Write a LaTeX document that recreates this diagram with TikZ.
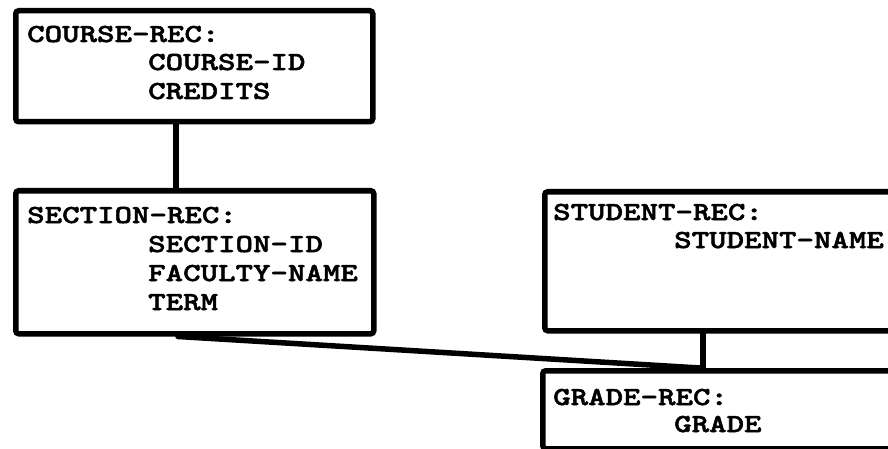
\documentclass[tikz,border=0pt]{standalone}
\usepackage{fontspec}
\newfontfamily\recfont[FakeStretch=1.28,FakeBold=2]{lmmonolt10-bold.otf}
\begin{document}
\begin{tikzpicture}[x=1pt,y=-1pt,
  recbox/.style={draw=black, line width=5.5pt, rounded corners=3pt, inner sep=0pt, anchor=north west},
  rectext/.style={anchor=base west, inner sep=0pt, font=\recfont\fontsize{26}{29}\selectfont},
  link/.style={draw=black, line width=5.5pt, line cap=round}]
\useasboundingbox (0,0) rectangle (888,449);
\clip (0,0) rectangle (888,449);
% boxes
\node[recbox, minimum width=357pt, minimum height=111pt] (course) at (13,8) {};
\node[recbox, minimum width=358pt, minimum height=143pt] (section) at (13,188) {};
\node[recbox, minimum width=400pt, minimum height=139pt] (student) at (542,189) {};
\node[recbox, minimum width=400pt, minimum height=78pt] (grade) at (540,368) {};
% texts
\node[rectext] (t1) at (27,42) {COURSE-REC:};
\node[rectext] (t2) at (148,70) {COURSE-ID};
\node[rectext] (t3) at (148,99) {CREDITS};
\node[rectext] (t4) at (27,223) {SECTION-REC:};
\node[rectext] (t5) at (148,252) {SECTION-ID};
\node[rectext] (t6) at (148,281) {FACULTY-NAME};
\node[rectext] (t7) at (148,310) {TERM};
\node[rectext] (t8) at (553,220) {STUDENT-REC:};
\node[rectext] (t9) at (674,248) {STUDENT-NAME};
\node[rectext] (t10) at (553,405) {GRADE-REC:};
\node[rectext] (t11) at (674,432) {GRADE};
% connectors
\coordinate (x1) at (176,0);
\coordinate (x2) at (703,0);
\coordinate (x3) at (178,0);
\coordinate (x4) at (700,0);
\draw[link] (course.south -| x1) -- (section.north -| x1);
\draw[link] (student.south -| x2) -- (grade.north -| x2);
\draw[link] (section.south -| x3) -- (grade.north -| x4);
\end{tikzpicture}
\end{document}
